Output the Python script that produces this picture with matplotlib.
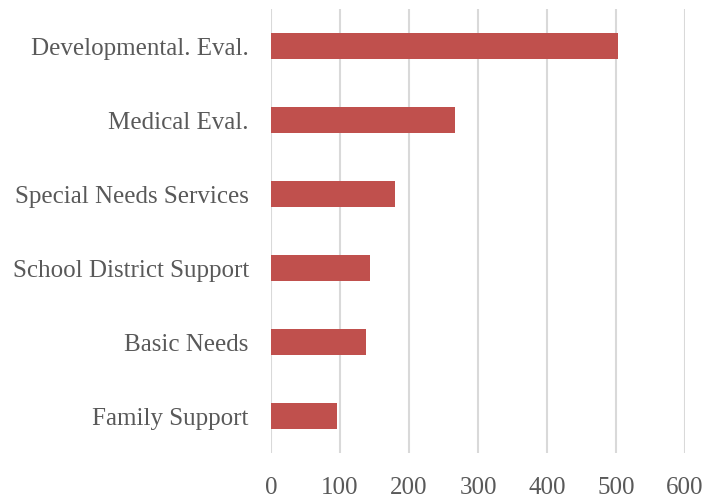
import matplotlib.pyplot as plt

categories = ["Developmental. Eval.", "Medical Eval.", "Special Needs Services",
              "School District Support", "Basic Needs", "Family Support"]
counts = [503, 266, 180, 143, 137, 96]
x_ticks = [0, 100, 200, 300, 400, 500, 600]

bar_color = "#C0504D"
grid_color = "#D9D9D9"
text_color = "#595959"

plt.rcParams["font.family"] = ["Liberation Serif", "DejaVu Serif"]

fig = plt.figure(figsize=(7.21, 5.04), dpi=100)
ax = fig.add_axes([0.3759, 0.1012, 0.9501 - 0.3759, 0.982 - 0.1012])

positions = list(range(len(categories)))
ax.barh(positions, counts, height=0.35, color=bar_color, zorder=3)

ax.set_ylim(len(categories) - 0.5, -0.5)
ax.set_yticks(positions)
ax.set_yticklabels(categories)
ax.set_xlim(0, 600)
ax.set_xticks(x_ticks)

ax.grid(axis="x", color=grid_color, linewidth=1.5, zorder=0)
for s in ax.spines.values():
    s.set_visible(False)

ax.tick_params(axis="both", length=0, labelsize=18, labelcolor=text_color)
ax.tick_params(axis="y", pad=16)
ax.tick_params(axis="x", pad=17)

fig.savefig("out.png", dpi=100)
